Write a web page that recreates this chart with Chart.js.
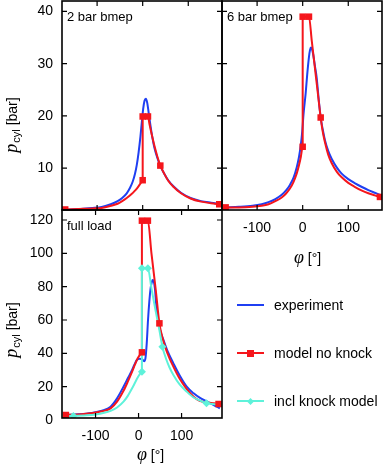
<!DOCTYPE html>
<html>
<head>
<meta charset="utf-8">
<script src="https://cdn.jsdelivr.net/npm/chart.js@4.4.1/dist/chart.umd.min.js"></script>
<style>
body { margin:0; background:#fff; width:386px; height:470px; position:relative; overflow:hidden; font-family:'Liberation Sans', Arial, sans-serif; }
canvas { position:absolute; }
.leg { position:absolute; left:237px; height:0; width:150px; }
.leg .ln { position:absolute; left:0; top:-1px; width:27px; height:2px; }
.leg .mk { position:absolute; }
.leg .tx { position:absolute; left:37px; top:-8px; font-size:14px; line-height:16px; white-space:nowrap; color:#000; }
</style>
</head>
<body>
<canvas id="c2bar" width="224" height="212" style="left:0;top:0"></canvas>
<canvas id="c6bar" width="166" height="270" style="left:220px;top:0"></canvas>
<canvas id="cfull" width="224" height="261" style="left:0;top:209px"></canvas>

<div class="leg" style="top:305px">
  <div class="ln" style="background:#1f3ff2"></div>
  <div class="tx">experiment</div>
</div>
<div class="leg" style="top:353px">
  <div class="ln" style="background:#f5161c"></div>
  <div class="mk" style="left:10px;top:-3.5px;width:7px;height:7px;background:#f5161c"></div>
  <div class="tx">model no knock</div>
</div>
<div class="leg" style="top:401px">
  <div class="ln" style="background:#5ef2da"></div>
  <div class="mk" style="left:11px;top:-2.5px;width:5px;height:5px;background:#5ef2da;transform:rotate(45deg)"></div>
  <div class="tx">incl knock model</div>
</div>

<script>
// tick labels
const xTicks = [-100, 0, 100];
const yTicksLow = [10, 20, 30, 40];
const yTicksFull = [0, 20, 40, 60, 80, 100, 120];

// 2 bar bmep
const exp2X = [-170, -140, -110, -90, -70, -55, -45, -35, -28, -22, -17, -13, -9, -5, -2, 1, 4, 7, 10, 13, 17, 21, 26, 32, 39, 47, 56, 68, 84, 105, 128, 150, 168];
const exp2Y = [2.0, 2.2, 2.4, 2.6, 3.1, 3.7, 4.3, 5.2, 6.2, 7.4, 8.9, 10.6, 13.0, 16.0, 18.7, 21.3, 22.9, 23.3, 22.5, 20.7, 18.2, 16.0, 13.8, 12.0, 10.4, 9.0, 7.7, 6.5, 5.3, 4.3, 3.7, 3.4, 3.2];
const mod2X = [-170, -140, -110, -90, -70, -55, -45, -35, -25, -18, -12, -7, -3, 0, 0, 11.6, 15, 20, 26, 32, 38.7, 47, 56, 68, 84, 105, 128, 150, 168];
const mod2Y = [2.1, 2.2, 2.3, 2.4, 2.8, 3.2, 3.7, 4.3, 5.0, 5.6, 6.2, 6.8, 7.3, 7.7, 19.9, 19.9, 18.4, 16.4, 14.2, 12.3, 10.5, 9.0, 7.6, 6.4, 5.2, 4.2, 3.6, 3.3, 3.1];
const mark2X = [-170, 0, 0, 11.6, 38.7, 168];
const mark2Y = [2.1, 7.7, 19.9, 19.9, 10.5, 3.1];

// 6 bar bmep
const exp6X = [-169, -140, -110, -90, -75, -60, -46, -36, -28, -20, -13, -8, -4, -1, 2, 6.5, 10, 13.8, 16, 18.2, 20.5, 23, 27, 30.6, 35, 39.5, 44, 49, 56, 63.5, 75, 85, 100, 115, 130, 144, 158, 169.5];
const exp6Y = [2.5, 2.6, 2.8, 3.1, 3.5, 4.1, 4.9, 5.8, 6.8, 8.2, 10.2, 12.2, 14.5, 17.0, 20.5, 24.3, 28.0, 31.3, 32.6, 33.1, 32.8, 31.8, 29.5, 27.4, 23.3, 19.7, 17.4, 15.3, 13.3, 11.8, 10.1, 9.0, 7.9, 7.1, 6.4, 5.8, 5.3, 4.9];
const mod6X = [-169, -140, -110, -90, -75, -60, -46, -36, -28, -20, -13, -8, -4, 0, 0, 13.8, 20, 26, 32, 39.5, 44, 49, 56, 63.5, 75, 85, 100, 115, 130, 144, 158, 169.5];
const mod6Y = [2.5, 2.5, 2.6, 2.8, 3.1, 3.7, 4.4, 5.2, 6.1, 7.4, 9.0, 10.6, 12.2, 14.1, 39.0, 39.0, 34.3, 29.8, 25.3, 19.7, 17.0, 14.9, 12.6, 11.0, 9.3, 8.3, 7.2, 6.4, 5.7, 5.2, 4.8, 4.5];
const mark6X = [-169, 0, 0, 13.8, 39.5, 169.5];
const mark6Y = [2.5, 14.1, 39.0, 39.0, 19.7, 4.5];

// full load
const expFX = [-169, -140, -110, -85, -65, -50, -35, -25, -15, -10, -4, 2, 8, 13, 16, 19, 22, 25, 28, 31, 33, 35, 38, 42, 45, 50, 58, 68, 81, 95, 112, 128, 142, 160, 175, 189];
const expFY = [3, 3.4, 4.2, 5.6, 8, 13, 20, 25, 30, 33, 36, 36.8, 36.5, 35.3, 37, 46, 60, 71, 79, 83, 84, 83.5, 79, 66, 61, 54, 48, 41, 34, 27, 20, 16, 13.4, 11, 9, 7];
const modFX = [-169, -140, -110, -85, -65, -50, -35, -25, -15, -8, -2, 3, 7.8, 7.8, 21.7, 30, 40, 48.5, 55, 63, 72, 81, 95, 112, 128, 142, 160, 175, 186];
const modFY = [3, 3.3, 4, 5.2, 7, 11, 17.5, 23, 29, 33.5, 37, 39, 40.6, 119.6, 119.6, 100, 78, 58, 50, 43, 37, 32, 25, 18.5, 14, 11.5, 10.5, 10, 9.6];
const markFX = [-169, 7.8, 7.8, 21.7, 48.5, 186];
const markFY = [3, 40.6, 119.6, 119.6, 58, 9.6];
const knkFX = [-169, -151.5, -120, -100, -80, -65, -50, -35, -25, -15, -8, -2, 3, 7.8, 7.8, 21.7, 30, 40, 48, 55.4, 65, 72, 81, 95, 112, 128, 142, 158, 172, 186];
const knkFY = [2.3, 2.4, 2.8, 3.3, 4.3, 5.5, 7.5, 11, 14.5, 19, 22.5, 25.5, 27.5, 29, 91, 91, 79, 65, 54.5, 44, 36, 31.5, 27, 21.5, 17, 13.5, 11.8, 10, 9.6, 9.3];
const knkMarkX = [-151.5, 7.8, 7.8, 21.7, 55.4, 158];
const knkMarkY = [2.4, 29, 91, 91, 44, 10];

const BLUE = '#1f3ff2', RED = '#f5161c', CYAN = '#5ef2da';
const SANS = '"Liberation Sans", Arial, sans-serif';
const SERIF = '"Liberation Serif", "Times New Roman", serif';

Chart.defaults.font.family = SANS;
Chart.defaults.font.size = 14;
Chart.defaults.color = '#000';

function pts(xs, ys) {
    return xs.map((x, i) => ({ x: x, y: ys[i] }));
}

function curve(xs, ys, color) {
    return {
        data: pts(xs, ys),
        borderColor: color,
        borderWidth: 2,
        pointRadius: 0,
        cubicInterpolationMode: 'monotone',
        fill: false
    };
}

function marks(xs, ys, color, style) {
    return {
        data: pts(xs, ys),
        showLine: false,
        pointStyle: style,
        pointRadius: style === 'rect' ? 4.6 : 4,
        backgroundColor: color,
        borderColor: color,
        borderWidth: 0
    };
}

// frame with inward mirrored ticks, panel label and axis titles
function panel(cfg) {
    return {
        id: 'panel',
        afterDraw(chart) {
            const ctx = chart.ctx, a = chart.chartArea;
            const sx = chart.scales.x, sy = chart.scales.y;
            ctx.save();
            ctx.strokeStyle = '#000';
            ctx.lineWidth = 1.6;
            ctx.strokeRect(a.left, a.top, a.right - a.left, a.bottom - a.top);
            ctx.lineWidth = 1.2;
            ctx.beginPath();
            xTicks.forEach(v => {
                const p = sx.getPixelForValue(v);
                ctx.moveTo(p, a.bottom); ctx.lineTo(p, a.bottom - 5);
                ctx.moveTo(p, a.top); ctx.lineTo(p, a.top + 5);
            });
            cfg.yTicks.forEach(v => {
                if (v < sy.min || v > sy.max) return;
                const p = sy.getPixelForValue(v);
                ctx.moveTo(a.left, p); ctx.lineTo(a.left + 5, p);
                ctx.moveTo(a.right, p); ctx.lineTo(a.right - 5, p);
            });
            ctx.stroke();

            ctx.fillStyle = '#000';
            ctx.textBaseline = 'alphabetic';
            ctx.textAlign = 'left';
            ctx.font = '13px ' + SANS;
            ctx.fillText(cfg.label, a.left + 5, a.top + 20);

            if (cfg.yTitle) {
                ctx.save();
                ctx.translate(16.5, cfg.yTitle);
                ctx.rotate(-Math.PI / 2);
                ctx.font = 'italic 18px ' + SERIF;
                const w1 = ctx.measureText('p').width;
                ctx.font = '11px ' + SANS;
                const w2 = ctx.measureText('cyl').width;
                ctx.font = '14px ' + SANS;
                const w3 = ctx.measureText(' [bar]').width;
                let s = -(w1 + w2 + w3 + 1) / 2;
                ctx.font = 'italic 18px ' + SERIF;
                ctx.fillText('p', s, 0);
                ctx.font = '11px ' + SANS;
                ctx.fillText('cyl', s + w1 + 1, 3);
                ctx.font = '14px ' + SANS;
                ctx.fillText(' [bar]', s + w1 + 1 + w2, 0);
                ctx.restore();
            }
            if (cfg.xTitle) {
                const cx = (a.left + a.right) / 2 + cfg.xShift;
                ctx.font = 'italic 18px ' + SERIF;
                const w = ctx.measureText('φ').width;
                ctx.fillText('φ', cx, a.bottom + cfg.xTitle);
                ctx.font = '14px ' + SANS;
                ctx.fillText(' [°]', cx + w, a.bottom + cfg.xTitle);
            }
            ctx.restore();
        }
    };
}

function yAxis(min, max, ticks, show) {
    return {
        min: min, max: max,
        display: show,
        grid: { display: false, drawTicks: false },
        border: { display: false },
        ticks: { padding: 9, autoSkip: false },
        afterBuildTicks: s => { s.ticks = ticks.map(v => ({ value: v })); },
        afterFit: s => { s.width = show ? 62 : 0; s.paddingTop = 0; s.paddingBottom = 0; }
    };
}

function xAxis(min, max, show, h) {
    return {
        type: 'linear',
        min: min, max: max,
        display: show,
        grid: { display: false, drawTicks: false },
        border: { display: false },
        ticks: { padding: 10, autoSkip: false, maxRotation: 0 },
        afterBuildTicks: s => { s.ticks = xTicks.map(v => ({ value: v })); },
        afterFit: s => { s.height = h; s.paddingLeft = 0; s.paddingRight = 0; }
    };
}

const common = {
    responsive: false,
    animation: false,
    events: [],
    plugins: { legend: { display: false }, tooltip: { enabled: false } }
};

window.onload = function() {
    // 2 bar bmep
    new Chart(document.getElementById('c2bar'), {
        type: 'line',
        data: { datasets: [
            marks(mark2X, mark2Y, RED, 'rect'),
            curve(mod2X, mod2Y, RED),
            curve(exp2X, exp2Y, BLUE)
        ] },
        options: {
            ...common,
            layout: { autoPadding: false, padding: { left: 0, top: 1, right: 2, bottom: 2 } },
            scales: { x: xAxis(-177, 174, false, 0), y: yAxis(2, 42, yTicksLow, true) }
        },
        plugins: [panel({ label: '2 bar bmep', yTicks: yTicksLow, yTitle: 125 })]
    });

    // 6 bar bmep
    new Chart(document.getElementById('c6bar'), {
        type: 'line',
        data: { datasets: [
            marks(mark6X, mark6Y, RED, 'rect'),
            curve(mod6X, mod6Y, RED),
            curve(exp6X, exp6Y, BLUE)
        ] },
        options: {
            ...common,
            layout: { autoPadding: false, padding: { left: 2, top: 1, right: 4, bottom: 0 } },
            scales: { x: xAxis(-177, 174, true, 60), y: yAxis(2, 42, yTicksLow, false) }
        },
        plugins: [panel({ label: '6 bar bmep', yTicks: yTicksLow, xTitle: 53, xShift: -8 })]
    });

    // full load
    new Chart(document.getElementById('cfull'), {
        type: 'line',
        data: { datasets: [
            marks(markFX, markFY, RED, 'rect'),
            marks(knkMarkX, knkMarkY, CYAN, 'rectRot'),
            curve(knkFX, knkFY, CYAN),
            curve(modFX, modFY, RED),
            curve(expFX, expFY, BLUE)
        ] },
        options: {
            ...common,
            layout: { autoPadding: false, padding: { left: 0, top: 1, right: 2, bottom: 0 } },
            scales: { x: xAxis(-178, 194, true, 52), y: yAxis(1.2, 126, yTicksFull, true) }
        },
        plugins: [panel({ label: 'full load', yTicks: yTicksFull, yTitle: 121, xTitle: 42, xShift: -5 })]
    });
};
</script>
</body>
</html>
